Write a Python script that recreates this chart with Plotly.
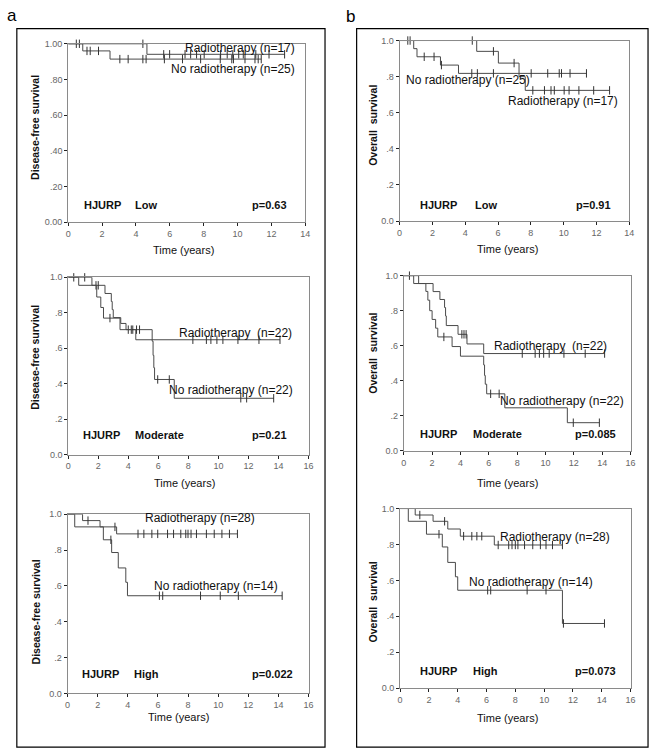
import numpy as np
import plotly.graph_objects as go

# ---------------- data ----------------
# tick labels
yticks_vals = [0, 0.2, 0.4, 0.6, 0.8, 1.0]
yticks_2dec = ["0.00", ".20", ".40", ".60", ".80", "1.00"]
yticks_1dec = ["0.0", ".2", ".4", ".6", ".8", "1.0"]

# a1: disease-free survival, HJURP low
a1_rt_t = [4.65]
a1_rt_s = [0.941]
a1_rt_end = 12.8
a1_rt_c = [4.41, 5.64, 5.99, 6.9, 7.23, 7.58, 8.03, 9.0, 9.39, 9.72, 10.07, 10.34, 11.08, 11.86, 12.78]
a1_no_t = [0.86, 2.47]
a1_no_s = [0.96, 0.914]
a1_no_end = 11.4
a1_no_c = [0.48, 0.66, 1.11, 1.3, 1.79, 3.05, 3.54, 4.41, 4.6, 5.68, 6.75, 7.82, 8.98, 9.66, 9.76, 10.44, 11.03, 11.22, 11.4]

# b1: overall survival, HJURP low
b1_rt_t = [4.7, 6.02, 7.28, 7.66]
b1_rt_s = [0.94, 0.875, 0.80, 0.724]
b1_rt_end = 12.8
b1_rt_c = [4.43, 5.72, 6.98, 8.12, 8.83, 9.23, 9.43, 10.03, 10.33, 10.93, 11.83, 12.8]
b1_no_t = [0.86, 1.06, 2.49, 3.59]
b1_no_s = [0.955, 0.91, 0.864, 0.818]
b1_no_end = 11.4
b1_no_c = [0.5, 0.64, 1.5, 2.1, 2.55, 4.4, 4.74, 5.72, 8.02, 9.03, 9.73, 9.87, 10.39, 11.39]

# a2: disease-free survival, HJURP moderate
a2_rt_t = [1.58, 2.45, 2.87, 2.93, 3.0, 3.5, 3.85, 4.5]
a2_rt_s = [0.955, 0.909, 0.864, 0.818, 0.773, 0.74, 0.705, 0.648]
a2_rt_end = 14.1
a2_rt_c = [1.1, 1.85, 2.0, 4.0, 4.2, 8.3, 9.2, 9.5, 9.9, 10.3, 11.3, 12.7, 14.1]
a2_no_t = [0.7, 1.9, 2.17, 2.35, 3.45, 5.59, 5.65, 5.7, 5.75, 7.06]
a2_no_s = [0.955, 0.889, 0.83, 0.77, 0.705, 0.64, 0.56, 0.49, 0.424, 0.318]
a2_no_end = 13.7
a2_no_c = [0.37, 2.78, 4.3, 4.55, 4.75, 5.96, 6.73, 11.49, 11.88, 13.68]

# b2: overall survival, HJURP moderate
b2_rt_t = [1.05, 2.07, 2.55, 2.88, 2.95, 3.0, 3.83, 4.46, 5.64]
b2_rt_s = [0.955, 0.909, 0.864, 0.818, 0.77, 0.715, 0.665, 0.61, 0.555]
b2_rt_end = 14.17
b2_rt_c = [4.1, 4.25, 4.4, 8.36, 9.27, 9.57, 9.87, 10.26, 11.3, 12.8, 14.17]
b2_no_t = [0.7, 1.56, 1.7, 1.83, 2.0, 2.25, 2.4, 3.41, 4.0, 5.64, 5.7, 5.75, 5.85, 7.13, 11.54]
b2_no_s = [0.955, 0.91, 0.86, 0.80, 0.75, 0.70, 0.65, 0.595, 0.54, 0.49, 0.43, 0.38, 0.325, 0.245, 0.16]
b2_no_end = 13.8
b2_no_c = [0.4, 2.83, 6.13, 6.73, 11.96, 13.8]

# a3: disease-free survival, HJURP high
a3_rt_t = [1.0, 2.16, 3.26]
a3_rt_s = [0.964, 0.929, 0.89]
a3_rt_end = 11.28
a3_rt_c = [1.36, 3.15, 4.68, 5.07, 5.6, 5.99, 6.64, 7.04, 7.52, 7.85, 8.0, 8.2, 8.56, 9.22, 9.74, 10.25, 10.75, 11.28]
a3_no_t = [0.48, 2.38, 2.93, 3.37, 3.87, 3.98]
a3_no_s = [0.929, 0.857, 0.786, 0.70, 0.62, 0.545]
a3_no_end = 14.25
a3_no_c = [2.88, 6.1, 6.32, 8.83, 10.14, 11.34, 14.25]

# b3: overall survival, HJURP high
b3_rt_t = [1.05, 2.29, 3.31, 4.18, 6.54]
b3_rt_s = [0.964, 0.929, 0.886, 0.846, 0.797]
b3_rt_end = 11.27
b3_rt_c = [1.37, 3.09, 4.41, 4.98, 5.33, 5.67, 6.81, 7.54, 7.77, 8.0, 8.18, 8.64, 9.21, 9.74, 10.13, 10.58, 11.27]
b3_no_t = [0.57, 1.83, 2.93, 3.31, 3.84, 4.0, 11.27]
b3_no_s = [0.929, 0.857, 0.786, 0.70, 0.62, 0.545, 0.36]
b3_no_end = 14.19
b3_no_c = [2.7, 6.08, 6.29, 8.82, 10.13, 11.34, 14.19]

# ---------------- helpers ----------------
W, H = 656, 754
FONT = "Liberation Sans, Arial, sans-serif"
CURVE = "#4a4a4a"
FRAME = "#8a8a8a"


def px(x):
    return x / W


def py(y):
    return 1 - y / H


def km_xy(times, surv, end):
    x = [0.0] + list(times) + [end]
    y = [1.0] + list(surv) + [surv[-1]]
    return x, y


def censor_y(times, surv, cens):
    idx = np.searchsorted(np.array(times), np.array(cens), side="right")
    vals = np.array([1.0] + list(surv))
    return vals[idx]


panels = [
    dict(id="a1", xd=(66, 306), yd=(220, 39.3), xmax=14, yt=yticks_2dec,
         ytitle="Disease-free survival", grp="Low", p="p=0.63",
         rt=(a1_rt_t, a1_rt_s, a1_rt_end, a1_rt_c), no=(a1_no_t, a1_no_s, a1_no_end, a1_no_c),
         rt_lab=("Radiotherapy (n=17)", 13.5, 0.974, "right"),
         no_lab=("No radiotherapy (n=25)", 13.5, 0.858, "right"),
         hx=2.0, gx=4.6, pxx=11.9, ty=0.094, time=(183, 248), yti=(33, 124)),
    dict(id="b1", xd=(401.5, 634), yd=(219, 36), xmax=14, yt=yticks_1dec,
         ytitle="Overall\u00a0 survival", grp="Low", p="p=0.91",
         rt=(b1_rt_t, b1_rt_s, b1_rt_end, b1_rt_c), no=(b1_no_t, b1_no_s, b1_no_end, b1_no_c),
         rt_lab=("Radiotherapy (n=17)", 13.46, 0.665, "right"),
         no_lab=("No radiotherapy (n=25)", 0.28, 0.78, "left"),
         hx=2.39, gx=5.28, pxx=11.8, ty=0.087, time=(511, 247), yti=(375, 122)),
    dict(id="a2", xd=(66, 309.3), yd=(455.7, 276), xmax=16, yt=yticks_1dec,
         ytitle="Disease-free survival", grp="Moderate", p="p=0.21",
         rt=(a2_rt_t, a2_rt_s, a2_rt_end, a2_rt_c), no=(a2_no_t, a2_no_s, a2_no_end, a2_no_c),
         rt_lab=("Radiotherapy\u00a0 (n=22)", 15.06, 0.688, "right"),
         no_lab=("No radiotherapy (n=22)", 15.1, 0.362, "right"),
         hx=2.2, gx=6.07, pxx=13.37, ty=0.113, time=(184, 484), yti=(33, 357)),
    dict(id="b2", xd=(405.7, 635.3), yd=(451.7, 274.3), xmax=16, yt=yticks_1dec,
         ytitle="Overall\u00a0 survival", grp="Moderate", p="p=0.085",
         rt=(b2_rt_t, b2_rt_s, b2_rt_end, b2_rt_c), no=(b2_no_t, b2_no_s, b2_no_end, b2_no_c),
         rt_lab=("Radiotherapy\u00a0 (n=22)", 14.45, 0.60, "right"),
         no_lab=("No radiotherapy (n=22)", 15.7, 0.282, "right"),
         hx=2.47, gx=6.64, pxx=13.55, ty=0.098, time=(511, 484), yti=(375, 353)),
    dict(id="a3", xd=(65.3, 309.3), yd=(697.7, 516), xmax=16, yt=yticks_1dec,
         ytitle="Disease-free survival", grp="High", p="p=0.022",
         rt=(a3_rt_t, a3_rt_s, a3_rt_end, a3_rt_c), no=(a3_no_t, a3_no_s, a3_no_end, a3_no_c),
         rt_lab=("Radiotherapy (n=28)", 12.57, 0.978, "right"),
         no_lab=("No radiotherapy (n=14)", 14.08, 0.60, "right"),
         hx=2.2, gx=5.27, pxx=13.6, ty=0.11, time=(178, 722), yti=(33, 615)),
    dict(id="b3", xd=(402, 635.3), yd=(692.3, 510.3), xmax=16, yt=yticks_1dec,
         ytitle="Overall\u00a0 survival", grp="High", p="p=0.073",
         rt=(b3_rt_t, b3_rt_s, b3_rt_end, b3_rt_c), no=(b3_no_t, b3_no_s, b3_no_end, b3_no_c),
         rt_lab=("Radiotherapy (n=28)", 14.74, 0.84, "right"),
         no_lab=("No radiotherapy (n=14)", 13.5, 0.59, "right"),
         hx=2.7, gx=5.9, pxx=13.6, ty=0.095, time=(511, 723), yti=(375, 605)),
]

fig = go.Figure()
annotations = []
layout_axes = {}

for i, pn in enumerate(panels, start=1):
    xa = "x" if i == 1 else f"x{i}"
    ya = "y" if i == 1 else f"y{i}"
    xkey = "xaxis" if i == 1 else f"xaxis{i}"
    ykey = "yaxis" if i == 1 else f"yaxis{i}"

    for grp in (pn["rt"], pn["no"]):
        t, s, end, c = grp
        x, y = km_xy(t, s, end)
        fig.add_trace(go.Scatter(x=x, y=y, mode="lines", line=dict(color=CURVE, width=1, shape="hv"),
                                 xaxis=xa, yaxis=ya, showlegend=False, hoverinfo="skip", cliponaxis=False))
        fig.add_trace(go.Scatter(x=c, y=censor_y(t, s, c), mode="markers",
                                 marker=dict(symbol="line-ns", size=6, line=dict(width=1, color="#333333")),
                                 xaxis=xa, yaxis=ya, showlegend=False, hoverinfo="skip", cliponaxis=False))

    layout_axes[xkey] = dict(domain=[px(pn["xd"][0]), px(pn["xd"][1])], range=[0, pn["xmax"]],
                             anchor=ya, tickmode="array", tickvals=list(range(0, pn["xmax"] + 1, 2)),
                             showline=True, linecolor=FRAME, linewidth=1, mirror=True,
                             ticks="outside", ticklen=3, tickcolor="#222", tickwidth=1,
                             showgrid=False, zeroline=False,
                             tickfont=dict(size=9, color="#666", family=FONT))
    layout_axes[ykey] = dict(domain=[py(pn["yd"][0]), py(pn["yd"][1])], range=[0, 1],
                             anchor=xa, tickmode="array", tickvals=yticks_vals, ticktext=pn["yt"],
                             showline=True, linecolor=FRAME, linewidth=1, mirror=True,
                             ticks="outside", ticklen=3, tickcolor="#222", tickwidth=1,
                             showgrid=False, zeroline=False,
                             tickfont=dict(size=9, color="#666", family=FONT))

    lab_font = dict(size=12, color="#111", family=FONT)
    for txt, lx, ly, anc in (pn["rt_lab"], pn["no_lab"]):
        annotations.append(dict(text=txt, x=lx, y=ly, xref=xa, yref=ya, xanchor=anc, yanchor="middle",
                                showarrow=False, font=lab_font))
    bold = dict(size=11, color="#111", family=FONT, weight="bold")
    for txt, tx in (("HJURP", pn["hx"]), (pn["grp"], pn["gx"]), (pn["p"], pn["pxx"])):
        annotations.append(dict(text=txt, x=tx, y=pn["ty"], xref=xa, yref=ya, xanchor="center",
                                yanchor="middle", showarrow=False, font=bold))

    annotations.append(dict(text="Time (years)", x=px(pn["time"][0]), y=py(pn["time"][1]), xref="paper",
                            yref="paper", xanchor="center", yanchor="middle", showarrow=False,
                            font=dict(size=11, color="#111", family=FONT)))
    annotations.append(dict(text=pn["ytitle"], x=px(pn["yti"][0]), y=py(pn["yti"][1]), xref="paper",
                            yref="paper", xanchor="center", yanchor="middle", showarrow=False, textangle=-90,
                            font=dict(size=10.5, color="#111", family=FONT, weight="bold")))

annotations.append(dict(text="a", x=px(9), y=py(11), xref="paper", yref="paper", xanchor="center",
                        yanchor="middle", showarrow=False, font=dict(size=17, color="#000", family=FONT)))
annotations.append(dict(text="b", x=px(352), y=py(12), xref="paper", yref="paper", xanchor="center",
                        yanchor="middle", showarrow=False, font=dict(size=17, color="#000", family=FONT)))

shapes = [
    dict(type="rect", xref="paper", yref="paper", x0=px(14), x1=px(326), y0=py(752), y1=py(24),
         line=dict(color="#000", width=1.2)),
    dict(type="rect", xref="paper", yref="paper", x0=px(358), x1=px(653), y0=py(752), y1=py(24),
         line=dict(color="#000", width=1.2)),
]

fig.update_layout(width=W, height=H, margin=dict(l=0, r=0, t=0, b=0, pad=0),
                  paper_bgcolor="white", plot_bgcolor="white", autosize=False,
                  annotations=annotations, shapes=shapes, showlegend=False,
                  font=dict(family=FONT), **layout_axes)

fig.write_html("out.html", config={"displayModeBar": False},
               post_script="document.body.style.margin='0';document.body.style.padding='0';"
                           "document.body.style.overflow='hidden';")
